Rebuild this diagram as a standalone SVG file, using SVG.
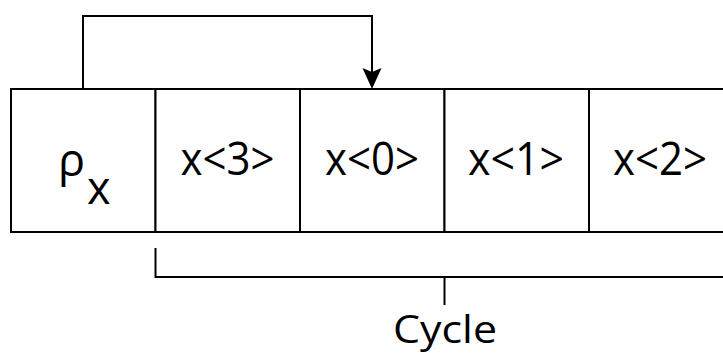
<svg xmlns="http://www.w3.org/2000/svg" width="723" height="354" viewBox="0 0 723 354">
  <style>
    .cell { fill: #ffffff; stroke: #000000; stroke-width: 2; }
    .wire { fill: none; stroke: #000000; stroke-width: 2; }
    .lbl { font-family: "Open Sans", "Noto Sans", "DejaVu Sans", sans-serif; font-size: 45px; fill: #000000; }
    .cap { font-family: "Open Sans", "Noto Sans", "DejaVu Sans", sans-serif; font-size: 39px; fill: #000000; }
  </style>
  <rect width="723" height="354" fill="#ffffff"/>

  <!-- register cells -->
  <g id="rho">
    <rect class="cell" x="11" y="89" width="144.5" height="143"/>
    <text class="lbl" x="58" y="176" font-size="40">ρ</text>
    <text class="lbl" x="87" y="204" font-size="50">x</text>
  </g>
  <g id="x3">
    <rect class="cell" x="155.5" y="89" width="144.5" height="143"/>
    <text class="lbl" x="227.5" y="175" text-anchor="middle" textLength="94" lengthAdjust="spacingAndGlyphs">x&lt;3&gt;</text>
  </g>
  <g id="x0">
    <rect class="cell" x="300" y="89" width="144.5" height="143"/>
    <text class="lbl" x="372" y="175" text-anchor="middle" textLength="94" lengthAdjust="spacingAndGlyphs">x&lt;0&gt;</text>
  </g>
  <g id="x1">
    <rect class="cell" x="444.5" y="89" width="144.5" height="143"/>
    <text class="lbl" x="516" y="175" text-anchor="middle" textLength="96" lengthAdjust="spacingAndGlyphs">x&lt;1&gt;</text>
  </g>
  <g id="x2">
    <rect class="cell" x="589" y="89" width="144.5" height="143"/>
    <text class="lbl" x="660" y="175" text-anchor="middle" textLength="94" lengthAdjust="spacingAndGlyphs">x&lt;2&gt;</text>
  </g>

  <!-- connectors -->
  <g id="connectors">
    <path class="wire" d="M83 89 V16 H372 V72"/>
    <path d="M362.5 68 L372 72 L381.5 68 L372 89 Z" fill="#000000"/>
  </g>

  <!-- cycle bracket -->
  <g id="cycle">
    <path class="wire" d="M155.5 248 V277 H740"/>
    <path class="wire" d="M444.5 277 V305"/>
    <text class="cap" x="445" y="343" text-anchor="middle" textLength="104" lengthAdjust="spacingAndGlyphs">Cycle</text>
  </g>
</svg>
